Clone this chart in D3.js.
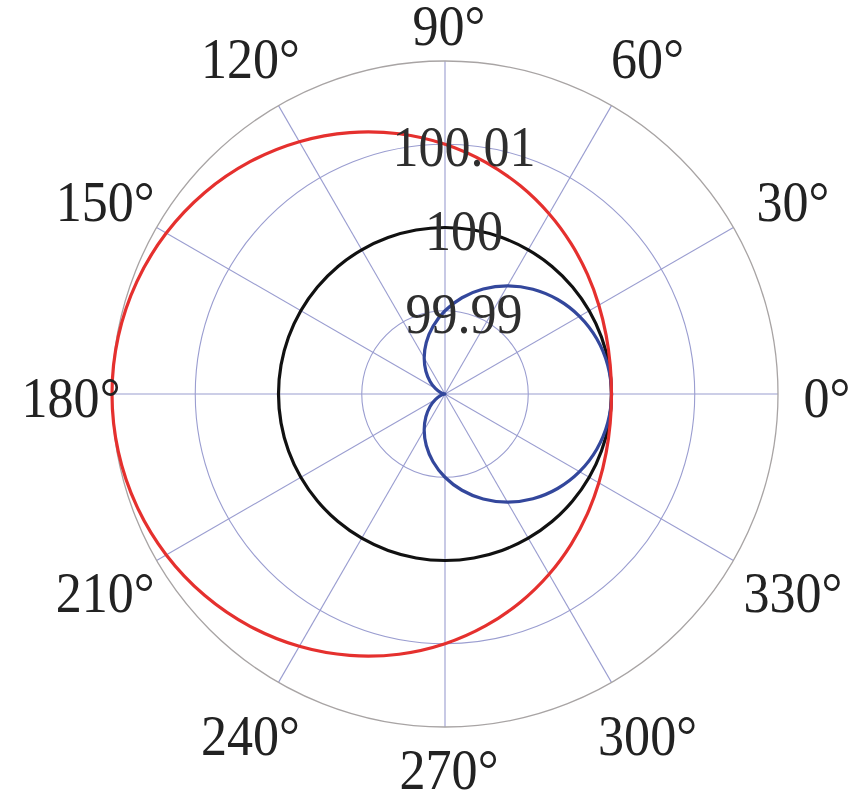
<!DOCTYPE html>
<html><head><meta charset="utf-8">
<script src="https://cdn.jsdelivr.net/npm/d3@7"></script>
<style>html,body{margin:0;padding:0;background:#fff;}svg{display:block;}</style>
</head><body>
<svg id="c" width="859" height="805"></svg>
<script>
const angles = [0,10,20,30,40,50,60,70,80,90,100,110,120,130,140,150,160,170,180,190,200,210,220,230,240,250,260,270,280,290,300,310,320,330,340,350];
const blackVals = [100,100,100,100,100,100,100,100,100,100,100,100,100,100,100,100,100,100,100,100,100,100,100,100,100,100,100,100,100,100,100,100,100,100,100,100];
const blueVals = [100.00000,99.99985,99.99940,99.99866,99.99766,99.99643,99.99500,99.99342,99.99174,99.99000,99.98826,99.98658,99.98500,99.98357,99.98234,99.98134,99.98060,99.98015,99.98000,99.98015,99.98060,99.98134,99.98234,99.98357,99.98500,99.98658,99.98826,99.99000,99.99174,99.99342,99.99500,99.99643,99.99766,99.99866,99.99940,99.99985];
const redVals = [100.00000,100.00015,100.00060,100.00134,100.00234,100.00357,100.00500,100.00658,100.00826,100.01000,100.01174,100.01342,100.01500,100.01643,100.01766,100.01866,100.01940,100.01985,100.02000,100.01985,100.01940,100.01866,100.01766,100.01643,100.01500,100.01342,100.01174,100.01000,100.00826,100.00658,100.00500,100.00357,100.00234,100.00134,100.00060,100.00015];
const radialTicks = [99.99, 100, 100.01];
const radialTickLabels = ["99.99", "100", "100.01"];
const rDomain = [99.98, 100.02];
const angleTicks = [0,30,60,90,120,150,180,210,240,270,300,330];
const angleTickLabels = ["0°","30°","60°","90°","120°","150°","180°","210°","240°","270°","300°","330°"];

const cx = 445, cy = 394, R = 333;
const svg = d3.select("#c");
const g = svg.append("g").attr("transform", `translate(${cx},${cy})`);
const r = d3.scaleLinear().domain(rDomain).range([0, R]);
const toRad = d => d * Math.PI / 180;
const gridColor = "#9a9dd0";
const FONT = "'Liberation Serif','Times New Roman',serif";
const FS = 56, SX = 0.93;

// rings
g.selectAll(".ring").data(radialTicks).join("circle")
  .attr("r", d => r(d)).attr("fill", "none").attr("stroke", gridColor).attr("stroke-width", 1.1);
// spokes
g.selectAll(".spoke").data(angleTicks).join("line")
  .attr("x1", 0).attr("y1", 0)
  .attr("x2", d => R * Math.cos(toRad(d))).attr("y2", d => -R * Math.sin(toRad(d)))
  .attr("stroke", gridColor).attr("stroke-width", 1.1);
// outer ring
g.append("circle").attr("r", r(rDomain[1])).attr("fill", "none").attr("stroke", "#a8a4a4").attr("stroke-width", 1.3);

// curves
const line = d3.lineRadial()
  .angle((d, i) => Math.PI / 2 - toRad(angles[i]))
  .radius(d => r(d))
  .curve(d3.curveCatmullRomClosed.alpha(0.5));
const series = [
  {vals: blackVals, color: "#111111"},
  {vals: blueVals, color: "#33479c"},
  {vals: redVals, color: "#e5302e"}
];
g.selectAll(".curve").data(series).join("path")
  .attr("d", d => line(d.vals)).attr("fill", "none")
  .attr("stroke", d => d.color).attr("stroke-width", 3.2);

// radial labels
g.selectAll(".rl").data(radialTicks).join("text")
  .attr("transform", d => `translate(19,${-r(d) + 22}) scale(${SX},1)`)
  .attr("text-anchor", "middle")
  .attr("font-family", FONT)
  .attr("font-size", FS).attr("fill", "#2e2e2e")
  .text((d, i) => radialTickLabels[i]);

// angle labels
const extra = d => 22 * Math.abs(Math.sin(toRad(2 * d)));
const lx = d => (378 + extra(d)) * Math.cos(toRad(d)) + 4;
const ly = d => -(372 + extra(d)) * Math.sin(toRad(d)) + 3;
g.selectAll(".al").data(angleTicks).join("text")
  .attr("transform", d => `translate(${lx(d)},${ly(d)}) scale(${SX},1)`)
  .attr("dy", "0.35em")
  .attr("text-anchor", "middle")
  .attr("font-family", FONT)
  .attr("font-size", FS).attr("fill", "#222")
  .text((d, i) => angleTickLabels[i]);
</script>
</body></html>
